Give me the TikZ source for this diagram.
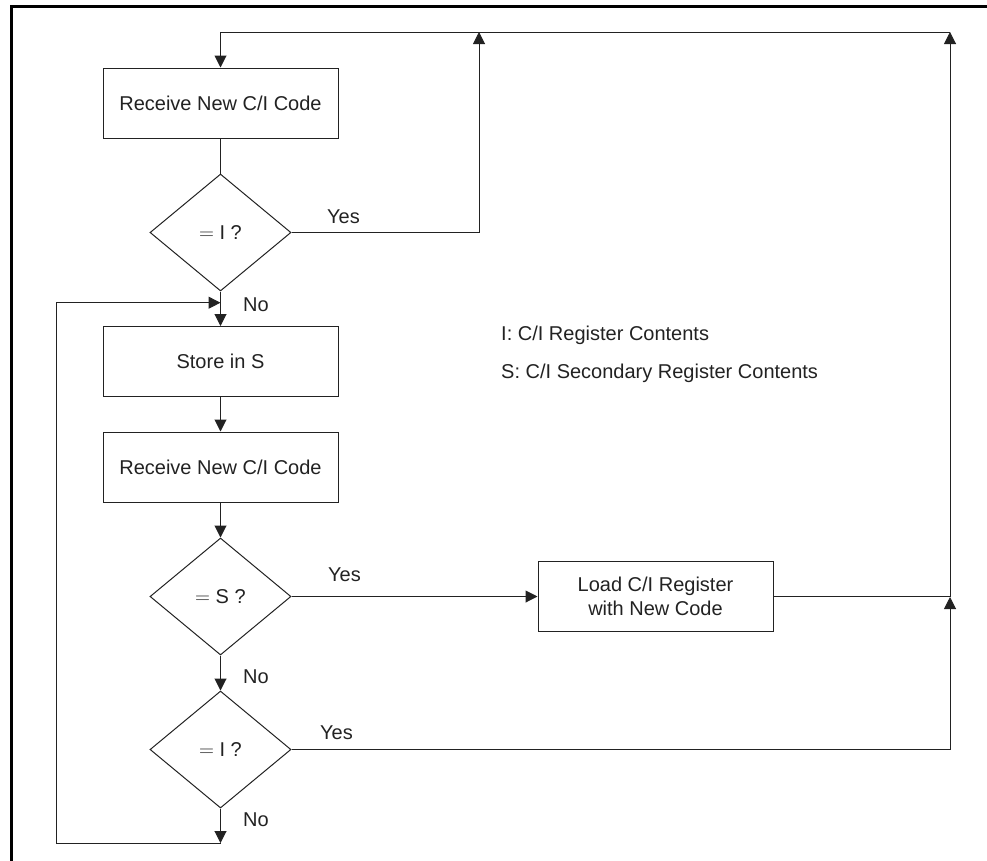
\documentclass[tikz,border=0pt]{standalone}
\usepackage{fontspec}
\setmainfont{Liberation Sans}
\usetikzlibrary{arrows.meta}
\usetikzlibrary{shapes.geometric}
\definecolor{ink}{HTML}{222222}

\begin{document}
\begin{tikzpicture}[x=1pt,y=-1pt,
		box/.style={draw=ink, line width=1pt, rectangle, minimum width=235pt, minimum height=70pt, inner sep=0pt, align=center},
		dec/.style={draw=ink, line width=1pt, diamond, minimum width=141pt, minimum height=117pt, inner sep=0pt},
		arr/.style={draw=ink, line width=1pt, -{Triangle[length=12pt,width=12pt]}},
		lne/.style={draw=ink, line width=1pt},
		lbl/.style={anchor=west, inner sep=0pt, text=ink}]
	\useasboundingbox (0,0) rectangle (987,860);
	\clip (0,0) rectangle (987,860);
	%frame
	\draw[line width=3.5pt] (11.5,900) |- (1000,6.5);
	\begin{scope}[font=\fontsize{20}{24}\selectfont, text=ink]
		%boxes and decisions
		\node[box] (recvA) at (220.5,103) {Receive New C/I Code};
		\node[dec] (eqIa) at (220.5,232.5) {$=$ I ?};
		\node[box] (store) at (220.5,361.5) {Store in S};
		\node[box] (recvB) at (220.5,467) {Receive New C/I Code};
		\node[dec] (eqS) at (220.5,596.5) {$=$ S ?};
		\node[dec] (eqIb) at (220.5,749.5) {$=$ I ?};
		\node[box] (load) at (655.5,596.5) {Load C/I Register\\with New Code};
		%labels
		\node[lbl] (yesA) at (327,217) {Yes};
		\node[lbl] (noA) at (243,305) {No};
		\node[lbl] (yesB) at (328,575) {Yes};
		\node[lbl] (noB) at (243,677) {No};
		\node[lbl] (yesC) at (320,733) {Yes};
		\node[lbl] (noC) at (243,820) {No};
		\node[lbl] (keyI) at (501,335) {I: C/I Register Contents};
		\node[lbl] (keyS) at (501,373) {S: C/I Secondary Register Contents};
	\end{scope}
	%junctions
	\coordinate (upA) at (479,32);
	\coordinate (topR) at (950,32);
	\coordinate (joinR) at (950,597);
	\coordinate (back) at (220.5,302.7);
	\coordinate (lowC) at (220.5,843);
	\coordinate (lft) at (56,843);
	%connectors
	\draw[lne] (recvA.south) -- (eqIa.north);
	\draw[arr] (eqIa.east) -| (upA);
	\draw[arr] (eqIa.south) -- (store.north);
	\draw[arr] (store.south) -- (recvB.north);
	\draw[arr] (recvB.south) -- (eqS.north);
	\draw[arr] (eqS.east) -- (load.west);
	\draw[arr] (eqS.south) -- (eqIb.north);
	\draw[arr] (eqIb.east) -| (joinR);
	\draw[arr] (load.east) -| (topR);
	\draw[arr] (topR) -| (recvA.north);
	\draw[arr] (eqIb.south) -- (lowC);
	\draw[arr] (lowC) -- (lft) |- (back);
\end{tikzpicture}
\end{document}
